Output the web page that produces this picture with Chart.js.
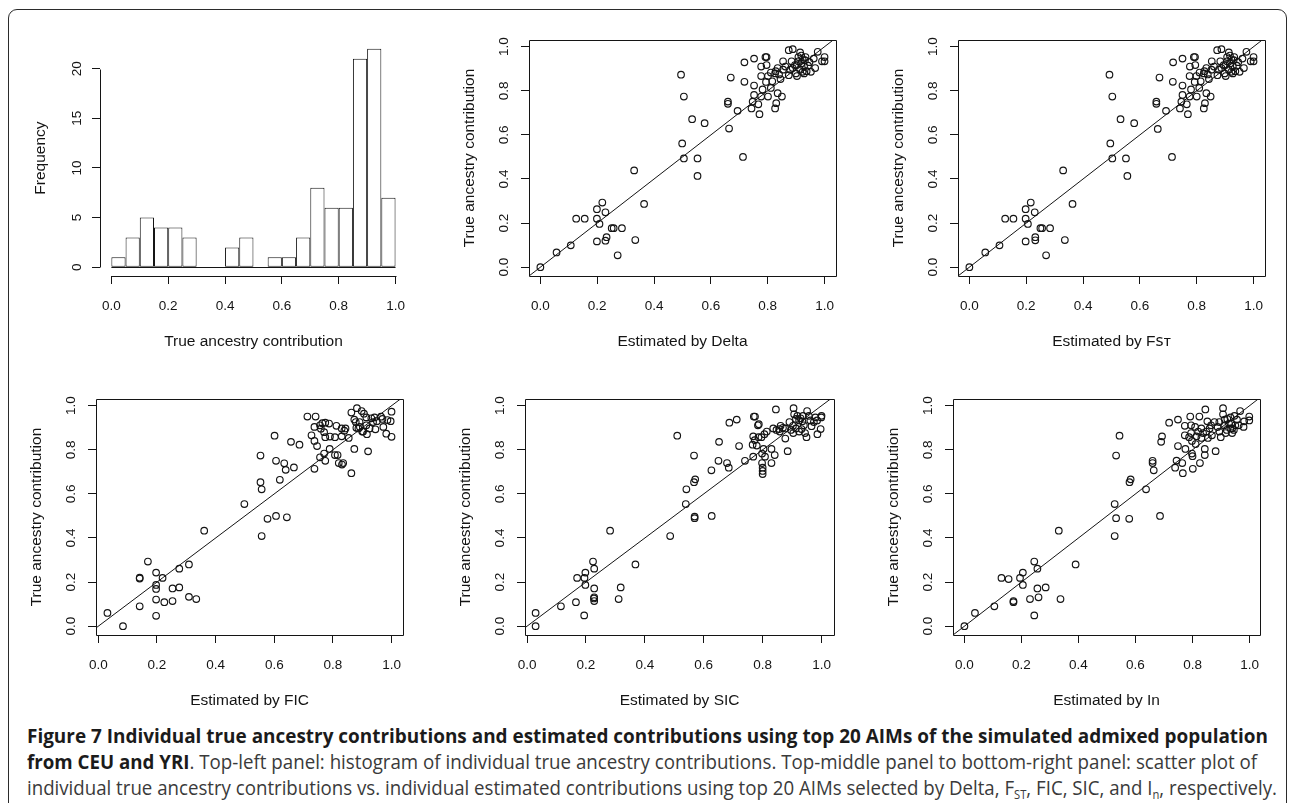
<!DOCTYPE html>
<html>
<head>
<meta charset="utf-8">
<script src="https://cdn.jsdelivr.net/npm/chart.js@4.4.0/dist/chart.umd.min.js"></script>
<style>
html,body{margin:0;padding:0;background:#fff;}
#page{position:relative;width:1290px;height:803px;overflow:hidden;background:#fff;}
#frame{position:absolute;left:8px;top:9px;width:1279px;height:860px;border:1.5px solid #2b2b2b;border-radius:9px;box-sizing:border-box;}
canvas{position:absolute;}
.cap{position:absolute;left:27px;display:inline-block;white-space:nowrap;font-family:'Open Sans','Noto Sans',sans-serif;font-size:20px;line-height:26px;color:#3a3a3a;transform-origin:0 50%;}
.cap b{color:#1b1b1b;font-weight:700;}
.cap sub{font-size:12px;vertical-align:-4px;line-height:0;}
</style>
</head>
<body>
<div id="page">
  <div id="frame"></div>
  <canvas id="hist"></canvas>
  <canvas id="delta"></canvas>
  <canvas id="fst"></canvas>
  <canvas id="fic"></canvas>
  <canvas id="sic"></canvas>
  <canvas id="inn"></canvas>
  <div class="cap" style="top:723px" data-w="1241"><b>Figure 7 Individual true ancestry contributions and estimated contributions using top 20 AIMs of the simulated admixed population</b></div>
  <div class="cap" style="top:749px" data-w="1230"><b>from CEU and YRI</b>. Top-left panel: histogram of individual true ancestry contributions. Top-middle panel to bottom-right panel: scatter plot of</div>
  <div class="cap" style="top:775px" data-w="1250">individual true ancestry contributions vs. individual estimated contributions using top 20 AIMs selected by Delta, F<sub>ST</sub>, FIC, SIC, and I<sub>n</sub>, respectively.</div>
</div>
<script>
// histogram of true ancestry contributions (bins of 0.05)
var histBinMid = [0.025,0.075,0.125,0.175,0.225,0.275,0.325,0.375,0.425,0.475,0.525,0.575,0.625,0.675,0.725,0.775,0.825,0.875,0.925,0.975];
var histCount  = [1,3,5,4,4,3,0,0,2,3,0,1,1,3,8,6,6,21,22,7];
var histYTicks = [0,5,10,15,20];
var unitTicks  = [0,0.2,0.4,0.6,0.8,1.0];

// Estimated by Delta
var deltaX = [0.0,0.057,0.107,0.126,0.156,0.199,0.199,0.218,0.208,0.229,0.199,0.229,0.233,0.251,0.258,0.287,0.272,0.334,0.33,0.365,
  0.495,0.505,0.534,0.578,0.499,0.505,0.553,0.553,0.664,0.66,0.66,0.67,0.694,0.713,0.718,0.718,0.752,
  0.743,0.747,0.752,0.752,0.771,0.767,0.777,0.782,0.777,0.777,0.792,0.796,0.796,0.801,0.801,0.811,0.816,0.826,0.83,0.835,
  0.826,0.835,0.85,0.845,0.854,0.854,0.874,0.874,0.884,0.888,0.888,0.899,0.903,0.908,0.908,0.914,0.918,0.918,0.923,0.923,
  0.928,0.928,0.933,0.937,0.942,0.952,0.962,0.967,0.976,0.991,1.0,1.0,0.828,0.896,0.862,0.811,0.931,0.914,0.902,0.947,0.879,0.840,0.794];
var deltaY = [0.0,0.067,0.099,0.22,0.22,0.263,0.22,0.293,0.196,0.249,0.117,0.12,0.136,0.177,0.177,0.177,0.054,0.123,0.439,0.287,
  0.873,0.774,0.671,0.653,0.561,0.493,0.493,0.414,0.629,0.741,0.751,0.86,0.709,0.5,0.841,0.929,0.946,
  0.72,0.751,0.781,0.824,0.694,0.739,0.774,0.806,0.867,0.91,0.953,0.953,0.917,0.867,0.774,0.813,0.843,0.72,0.744,0.789,
  0.879,0.903,0.774,0.853,0.896,0.934,0.871,0.984,0.934,0.989,0.903,0.879,0.867,0.953,0.934,0.974,0.96,0.924,0.943,0.886,
  0.91,0.879,0.953,0.889,0.914,0.886,0.946,0.903,0.977,0.934,0.953,0.934,0.889,0.917,0.91,0.883,0.939,0.896,0.917,0.93,0.896,0.874,0.84];

// Estimated by FST
var fstX = [0.0,0.056,0.106,0.126,0.155,0.198,0.198,0.216,0.206,0.23,0.198,0.232,0.232,0.25,0.256,0.284,0.27,0.336,0.33,0.363,
  0.493,0.503,0.532,0.58,0.496,0.503,0.551,0.556,0.663,0.658,0.658,0.669,0.692,0.713,0.716,0.717,0.75,
  0.741,0.746,0.75,0.75,0.769,0.765,0.775,0.78,0.775,0.776,0.79,0.794,0.795,0.799,0.8,0.809,0.814,0.825,0.829,0.834,
  0.825,0.834,0.849,0.843,0.852,0.853,0.873,0.872,0.883,0.887,0.887,0.898,0.902,0.907,0.907,0.913,0.917,0.917,0.922,0.922,
  0.927,0.927,0.932,0.936,0.941,0.951,0.961,0.966,0.975,0.99,1.0,1.0,0.827,0.895,0.861,0.81,0.93,0.913,0.901,0.946,0.878,0.839,0.793];
var fstY = [0.0,0.067,0.099,0.22,0.22,0.263,0.22,0.293,0.196,0.249,0.117,0.122,0.136,0.177,0.177,0.177,0.054,0.123,0.439,0.287,
  0.873,0.774,0.671,0.653,0.561,0.493,0.493,0.414,0.627,0.741,0.751,0.86,0.709,0.5,0.841,0.929,0.946,
  0.72,0.751,0.781,0.824,0.694,0.739,0.774,0.806,0.867,0.91,0.953,0.953,0.917,0.867,0.774,0.813,0.843,0.72,0.744,0.789,
  0.879,0.903,0.774,0.853,0.896,0.934,0.871,0.984,0.934,0.989,0.903,0.879,0.867,0.953,0.934,0.974,0.96,0.924,0.943,0.886,
  0.91,0.879,0.953,0.889,0.914,0.886,0.946,0.903,0.977,0.934,0.953,0.934,0.889,0.917,0.91,0.883,0.939,0.896,0.917,0.93,0.896,0.874,0.84];

// Estimated by FIC
var ficX = [0.031,0.084,0.141,0.141,0.141,0.169,0.197,0.197,0.197,0.197,0.197,0.219,0.225,0.253,0.253,0.276,0.276,0.309,0.309,0.334,0.361,
  0.498,0.553,0.553,0.557,0.557,0.577,0.606,0.643,0.601,0.606,0.619,0.634,0.639,0.657,0.667,0.686,
  0.713,0.741,0.727,0.737,0.746,0.737,0.756,0.774,0.770,0.737,0.756,0.764,0.774,0.774,0.770,0.789,0.807,0.807,0.816,0.82,
  0.835,0.812,0.830,0.839,0.830,0.854,0.863,0.873,0.863,0.873,0.882,0.878,0.891,0.898,0.906,0.887,0.9,0.916,0.92,0.925,
  0.931,0.945,0.942,0.964,0.972,0.982,1.0,0.997,1.0,0.903,0.843,0.937,0.892,0.969,0.914,0.831,0.759,0.787,0.914,0.88,0.95,0.79,0.986];
var ficY = [0.06,0.0,0.09,0.216,0.22,0.293,0.243,0.187,0.169,0.121,0.047,0.219,0.109,0.114,0.171,0.176,0.261,0.28,0.133,0.123,0.433,
  0.554,0.774,0.653,0.621,0.409,0.487,0.5,0.494,0.864,0.75,0.664,0.739,0.709,0.836,0.72,0.823,
  0.951,0.951,0.866,0.84,0.817,0.714,0.766,0.75,0.783,0.904,0.911,0.921,0.923,0.857,0.88,0.804,0.857,0.776,0.776,0.74,
  0.74,0.909,0.897,0.887,0.861,0.854,0.694,0.804,0.969,0.937,0.989,0.926,0.926,0.976,0.964,0.897,0.883,0.871,0.793,0.897,
  0.943,0.893,0.947,0.95,0.904,0.873,0.973,0.93,0.859,0.883,0.897,0.926,0.904,0.94,0.911,0.733,0.896,0.919,0.947,0.9,0.93,0.86,0.935];

// Estimated by SIC
var sicX = [0.029,0.029,0.115,0.166,0.17,0.194,0.195,0.198,0.198,0.224,0.228,0.228,0.228,0.228,0.311,0.318,0.282,0.368,0.227,
  0.486,0.539,0.541,0.51,0.567,0.567,0.571,0.569,0.569,0.627,0.626,0.65,0.652,0.679,0.685,0.687,0.712,0.72,0.74,
  0.77,0.774,0.768,0.766,0.768,0.773,0.784,0.787,0.786,0.798,0.798,0.8,0.8,0.796,0.806,0.803,0.808,0.83,0.83,0.841,
  0.845,0.836,0.847,0.861,0.856,0.877,0.877,0.885,0.891,0.903,0.905,0.907,0.904,0.918,0.924,0.929,0.935,0.932,0.944,0.949,
  0.94,0.951,0.962,0.966,0.979,0.986,0.997,0.999,1.0,0.913,0.896,0.957,0.924,0.974,0.869,0.937,0.814,0.78,0.913,0.8,0.985,0.858];
var sicY = [0.06,0.0,0.09,0.109,0.219,0.049,0.219,0.243,0.187,0.293,0.261,0.171,0.131,0.114,0.123,0.176,0.433,0.28,0.126,
  0.409,0.554,0.621,0.864,0.774,0.653,0.666,0.49,0.497,0.5,0.707,0.75,0.836,0.74,0.719,0.923,0.937,0.817,0.75,
  0.951,0.951,0.861,0.823,0.769,0.844,0.911,0.916,0.857,0.783,0.74,0.704,0.69,0.857,0.871,0.804,0.769,0.804,0.74,0.776,
  0.983,0.897,0.89,0.909,0.894,0.851,0.897,0.794,0.926,0.909,0.989,0.961,0.876,0.954,0.933,0.943,0.929,0.894,0.876,0.857,
  0.911,0.976,0.933,0.907,0.947,0.871,0.894,0.947,0.954,0.897,0.89,0.954,0.883,0.926,0.9,0.954,0.883,0.819,0.94,0.719,0.933,0.883];

// Estimated by In
var inX = [0.0,0.037,0.105,0.13,0.155,0.172,0.172,0.195,0.205,0.205,0.23,0.245,0.245,0.256,0.256,0.26,0.285,0.331,0.337,0.39,
  0.527,0.527,0.532,0.532,0.544,0.578,0.579,0.583,0.637,0.66,0.66,0.664,0.686,0.69,0.693,0.718,
  0.739,0.744,0.749,0.749,0.764,0.766,0.773,0.773,0.775,0.792,0.795,0.795,0.798,0.798,0.8,0.801,0.814,0.82,0.824,0.826,
  0.831,0.831,0.843,0.843,0.845,0.848,0.852,0.86,0.868,0.881,0.877,0.888,0.899,0.907,0.907,0.913,0.92,0.928,0.933,0.939,
  0.945,0.947,0.956,0.967,0.981,0.999,0.999,0.922,0.95,0.894,0.911,0.939,0.865,0.809,0.837,0.962,0.916,0.933,0.788,0.854,0.979,0.894,0.936,0.811];
var inY = [0.0,0.06,0.09,0.219,0.214,0.114,0.109,0.219,0.243,0.187,0.123,0.293,0.049,0.261,0.171,0.131,0.176,0.433,0.123,0.28,
  0.409,0.554,0.49,0.774,0.864,0.487,0.653,0.666,0.621,0.75,0.74,0.707,0.5,0.836,0.861,0.923,
  0.719,0.751,0.937,0.817,0.74,0.694,0.866,0.909,0.804,0.951,0.911,0.876,0.84,0.783,0.771,0.714,0.861,0.883,0.951,0.74,
  0.897,0.854,0.804,0.776,0.983,0.883,0.929,0.897,0.866,0.794,0.926,0.904,0.857,0.989,0.961,0.937,0.89,0.919,0.897,0.876,
  0.89,0.954,0.937,0.976,0.929,0.951,0.933,0.94,0.911,0.883,0.911,0.897,0.911,0.904,0.876,0.911,0.876,0.947,0.857,0.854,0.904,0.926,0.919,0.826];

var yTitle = 'True ancestry contribution';
var scatterYRange = [-0.04, 1.03];

var tickFont  = {family: "'Liberation Sans', Arial, sans-serif", size: 13.5, lineHeight: 1.2};
var titleFont = {family: "'Liberation Sans', Arial, 'DejaVu Sans', sans-serif", size: 15.5, lineHeight: 1.2};
var ink = '#141414';

Chart.defaults.animation = false;
Chart.defaults.font.family = tickFont.family;

// R style frame: box around plot region, or axis lines that only span the ticks (hist)
var rFrame = {
  id: 'rframe',
  afterDatasetsDraw: function(chart, args, opts) {
    var ctx = chart.ctx, a = chart.chartArea, sx = chart.scales.x, sy = chart.scales.y;
    var px = function(v){ return Math.round(v) + 0.5; };
    ctx.save();
    ctx.strokeStyle = ink;
    ctx.lineWidth = 1;
    ctx.beginPath();
    if (opts.box) {
      ctx.rect(px(a.left), px(a.top), Math.round(a.right) - Math.round(a.left), Math.round(a.bottom) - Math.round(a.top));
    }
    if (opts.hist) {
      var x0 = sx.getPixelForValue(unitTicks[0]), x1 = sx.getPixelForValue(unitTicks[unitTicks.length-1]);
      var y0 = sy.getPixelForValue(histYTicks[0]), y1 = sy.getPixelForValue(histYTicks[histYTicks.length-1]);
      ctx.moveTo(px(a.left), px(y0)); ctx.lineTo(px(a.left), px(y1));
      ctx.moveTo(px(x0), px(a.bottom)); ctx.lineTo(px(x1), px(a.bottom));
      ctx.moveTo(x0, px(y0)); ctx.lineTo(x1, px(y0));
    }
    ctx.stroke();
    ctx.restore();
  }
};

function place(cv, b) {
  var w = b.R - b.L + 82, h = b.B - b.T + 82;
  cv.width = w; cv.height = h;
  cv.style.left = (b.L - 80) + 'px';
  cv.style.top = (b.T - 2) + 'px';
  cv.style.width = w + 'px';
  cv.style.height = h + 'px';
}

function axis(min, max, ticks, fmt, title, isY) {
  return {
    type: 'linear', min: min, max: max, offset: false,
    afterBuildTicks: function(s){ s.ticks = ticks.map(function(v){ return {value: v}; }); },
    afterFit: function(s){ if (isY) s.width = 80; else s.height = 80; },
    border: {display: false},
    grid: {display: true, drawOnChartArea: false, drawTicks: true, tickLength: 8, color: ink, lineWidth: 1, offset: false},
    ticks: {autoSkip: false, color: ink, font: tickFont, padding: isY ? 7 : 14,
            minRotation: isY ? 90 : 0, maxRotation: isY ? 90 : 0, crossAlign: isY ? 'center' : 'near',
            callback: fmt},
    title: {display: true, text: title, color: ink, font: titleFont,
            padding: isY ? {top: 11, bottom: 0} : {top: 0, bottom: 4.5}}
  };
}

function fmt1(v){ return Number(v).toFixed(1); }
function fmt0(v){ return String(v); }

function baseOpts(frame) {
  return {
    responsive: false, devicePixelRatio: 1,
    layout: {autoPadding: false, padding: {top: 2, right: 2, left: 0, bottom: 0}},
    plugins: {legend: {display: false}, tooltip: {enabled: false}, rframe: frame},
    events: []
  };
}

function scatterPanel(id, box, xs, ys, xr, xTitle) {
  var cv = document.getElementById(id);
  place(cv, box);
  var pts = xs.map(function(v, i){ return {x: v, y: ys[i]}; });
  var o = baseOpts({box: true});
  o.scales = {
    x: axis(xr[0], xr[1], unitTicks, fmt1, xTitle, false),
    y: axis(scatterYRange[0], scatterYRange[1], unitTicks, fmt1, yTitle, true)
  };
  new Chart(cv, {
    type: 'scatter',
    data: {datasets: [
      {data: pts, pointStyle: 'circle', pointRadius: 3.3, pointBorderWidth: 1.15,
       pointBorderColor: ink, pointBackgroundColor: 'rgba(0,0,0,0)', showLine: false},
      {type: 'line', data: [{x: xr[0], y: xr[0]}, {x: xr[1], y: xr[1]}],
       borderColor: ink, borderWidth: 1, pointRadius: 0, fill: false}
    ]},
    options: o,
    plugins: [rFrame]
  });
}

// histogram
(function(){
  var cv = document.getElementById('hist');
  place(cv, {L: 100, R: 417, T: 27, B: 276});
  var o = baseOpts({hist: true});
  o.scales = {
    x: axis(-0.04, 1.04, unitTicks, fmt1, yTitle, false),
    y: axis(-0.88, 22.88, histYTicks, fmt0, 'Frequency', true)
  };
  new Chart(cv, {
    type: 'bar',
    data: {datasets: [{
      data: histBinMid.map(function(m, i){ return {x: m, y: histCount[i]}; }),
      backgroundColor: '#ffffff', borderColor: ink, borderWidth: 1, borderSkipped: false,
      barPercentage: 1, categoryPercentage: 1, inflateAmount: 0
    }]},
    options: o,
    plugins: [rFrame]
  });
})();

scatterPanel('delta', {L: 529, R: 846, T: 27, B: 276}, deltaX, deltaY, [-0.04, 1.04], 'Estimated by Delta');
scatterPanel('fst',   {L: 958, R: 1275, T: 27, B: 276}, fstX, fstY, [-0.04, 1.04], 'Estimated by F\uA731\u1D1B');
scatterPanel('fic',   {L: 96, R: 413, T: 386, B: 635}, ficX, ficY, [-0.008, 1.04], 'Estimated by FIC');
scatterPanel('sic',   {L: 525, R: 843, T: 386, B: 635}, sicX, sicY, [-0.007, 1.043], 'Estimated by SIC');
scatterPanel('inn',   {L: 953, R: 1271, T: 386, B: 635}, inX, inY, [-0.04, 1.037], 'Estimated by In');

function fitCaption() {
  var caps = document.querySelectorAll('.cap');
  for (var i = 0; i < caps.length; i++) {
    var el = caps[i];
    el.style.transform = 'none';
    var w = el.getBoundingClientRect().width;
    el.style.transform = 'scaleX(' + (+el.dataset.w / w) + ')';
  }
}
fitCaption();
if (document.fonts && document.fonts.ready) document.fonts.ready.then(fitCaption);
</script>
</body>
</html>
